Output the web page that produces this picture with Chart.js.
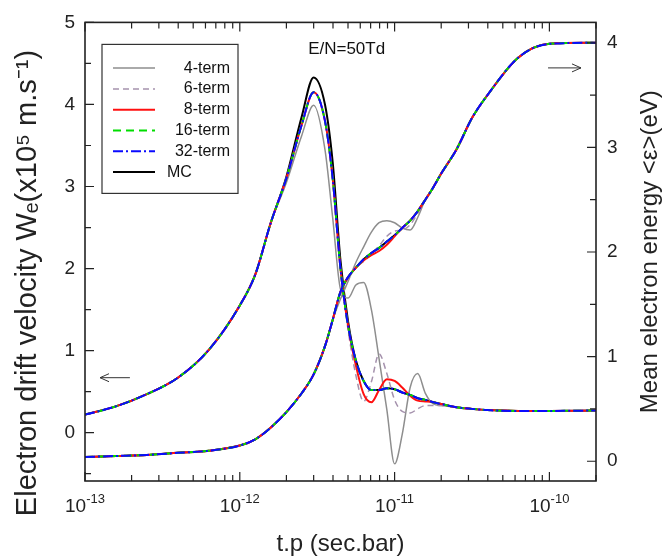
<!DOCTYPE html>
<html>
<head>
<meta charset="utf-8">
<script src="https://cdn.jsdelivr.net/npm/chart.js@4.4.1/dist/chart.umd.min.js"></script>
<style>
  html, body { margin: 0; padding: 0; background: #fff; }
</style>
</head>
<body>
<canvas id="chart" width="666" height="559"></canvas>
<script>
// time axis (t.p in sec.bar), shared by every curve
const times = [1e-13, 1.58e-13, 2.51e-13, 3.98e-13, 6.31e-13, 1e-12, 1.26e-12, 1.58e-12, 2.0e-12, 2.51e-12,
  3.0e-12, 3.55e-12, 3.98e-12, 4.47e-12, 5.01e-12, 5.62e-12, 6.31e-12, 7.08e-12, 7.94e-12,
  8.91e-12, 1e-11, 1.12e-11, 1.26e-11, 1.41e-11, 1.58e-11, 1.78e-11, 2.0e-11, 2.51e-11, 3.16e-11,
  3.98e-11, 6.31e-11, 1e-10, 2e-10];

// drift velocity (x10^5 m/s), left axis
const vel4  = [0.22, 0.32, 0.47, 0.67, 1.01, 1.55, 1.93, 2.55, 3.05, 3.62, 3.99, 3.45, 2.62, 1.75, 1.64, 1.80, 1.83, 1.50, 0.90,
  0.28, -0.38, -0.02, 0.55, 0.72, 0.48, 0.35, 0.33, 0.31, 0.29, 0.275, 0.265, 0.265, 0.27];
const vel6  = [0.22, 0.32, 0.47, 0.67, 1.01, 1.55, 1.93, 2.55, 3.10, 3.75, 4.15, 3.80, 3.10, 2.00, 1.25, 0.70, 0.38, 0.62, 0.96,
  0.72, 0.40, 0.26, 0.24, 0.29, 0.33, 0.33, 0.33, 0.31, 0.29, 0.275, 0.265, 0.265, 0.27];
const vel8  = [0.22, 0.32, 0.47, 0.67, 1.01, 1.55, 1.93, 2.55, 3.10, 3.75, 4.15, 3.80, 3.10, 2.00, 1.30, 0.82, 0.47, 0.37, 0.52,
  0.65, 0.63, 0.55, 0.45, 0.39, 0.38, 0.37, 0.35, 0.31, 0.29, 0.275, 0.265, 0.265, 0.27];
const vel16 = [0.22, 0.32, 0.47, 0.67, 1.01, 1.55, 1.93, 2.55, 3.10, 3.75, 4.15, 3.80, 3.10, 2.00, 1.30, 0.88, 0.63, 0.52, 0.52,
  0.54, 0.53, 0.49, 0.46, 0.42, 0.40, 0.37, 0.35, 0.31, 0.29, 0.275, 0.265, 0.265, 0.27];
const vel32 = [0.22, 0.32, 0.47, 0.67, 1.01, 1.55, 1.93, 2.55, 3.10, 3.75, 4.15, 3.80, 3.10, 2.00, 1.30, 0.88, 0.63, 0.52, 0.52,
  0.54, 0.53, 0.49, 0.46, 0.42, 0.40, 0.37, 0.35, 0.31, 0.29, 0.275, 0.265, 0.265, 0.27];
const velMC = [0.22, 0.32, 0.47, 0.67, 1.01, 1.55, 1.93, 2.55, 3.12, 3.85, 4.33, 4.00, 3.30, 2.10, 1.35, 0.88, 0.63, 0.52, 0.52,
  0.54, 0.53, 0.49, 0.46, 0.42, 0.40, 0.37, 0.35, 0.31, 0.29, 0.275, 0.265, 0.265, 0.27];

// mean electron energy (eV), right axis
const en4  = [0.04, 0.05, 0.06, 0.08, 0.10, 0.15, 0.21, 0.32, 0.47, 0.65, 0.83, 1.10, 1.35, 1.55, 1.72, 1.90, 2.05, 2.19, 2.28,
  2.30, 2.28, 2.23, 2.21, 2.33, 2.50, 2.62, 2.75, 2.98, 3.28, 3.50, 3.86, 3.99, 4.0];
const en6  = [0.04, 0.05, 0.06, 0.08, 0.10, 0.15, 0.21, 0.32, 0.47, 0.65, 0.83, 1.10, 1.35, 1.62, 1.76, 1.85, 1.91, 1.98, 2.06,
  2.15, 2.20, 2.21, 2.26, 2.37, 2.50, 2.62, 2.75, 2.98, 3.28, 3.50, 3.86, 3.99, 4.0];
const en8  = [0.04, 0.05, 0.06, 0.08, 0.10, 0.15, 0.21, 0.32, 0.47, 0.65, 0.83, 1.10, 1.35, 1.62, 1.76, 1.85, 1.92, 1.97, 2.01,
  2.07, 2.15, 2.23, 2.30, 2.39, 2.50, 2.62, 2.75, 2.98, 3.28, 3.50, 3.86, 3.99, 4.0];
const en16 = [0.04, 0.05, 0.06, 0.08, 0.10, 0.15, 0.21, 0.32, 0.47, 0.65, 0.83, 1.10, 1.35, 1.62, 1.76, 1.85, 1.93, 1.99, 2.04,
  2.10, 2.16, 2.23, 2.30, 2.39, 2.50, 2.62, 2.75, 2.98, 3.28, 3.50, 3.86, 3.99, 4.0];
const en32 = [0.04, 0.05, 0.06, 0.08, 0.10, 0.15, 0.21, 0.32, 0.47, 0.65, 0.83, 1.10, 1.35, 1.62, 1.76, 1.85, 1.93, 1.99, 2.04,
  2.10, 2.16, 2.23, 2.30, 2.39, 2.50, 2.62, 2.75, 2.98, 3.28, 3.50, 3.86, 3.99, 4.0];
const enMC = [0.04, 0.05, 0.06, 0.08, 0.10, 0.15, 0.21, 0.32, 0.47, 0.65, 0.83, 1.10, 1.35, 1.62, 1.76, 1.85, 1.93, 1.99, 2.04,
  2.10, 2.16, 2.23, 2.30, 2.39, 2.50, 2.62, 2.75, 2.98, 3.28, 3.50, 3.86, 3.99, 4.0];

const seriesNames = ['4-term', '6-term', '8-term', '16-term', '32-term', 'MC'];

// x ticks are powers of ten, written as base + exponent
const xTickValues = [1e-13, 1e-12, 1e-11, 1e-10];
const xTickExponents = ['-13', '-12', '-11', '-10'];
const leftTicks = [0, 1, 2, 3, 4, 5];
const rightTicks = [0, 1, 2, 3, 4];

const FONT = '"Liberation Sans", Arial, sans-serif';
Chart.defaults.font.family = FONT;
Chart.defaults.color = '#222';

// line styles, same order as seriesNames
const styles = [
  { color: '#8e8e8e', width: 1.5, dash: [], order: 4 },
  { color: '#a592ad', width: 1.5, dash: [6, 4], order: 3 },
  { color: '#ff1010', width: 2, dash: [], order: 2 },
  { color: '#00dd00', width: 2, dash: [8, 5], order: 1 },
  { color: '#0a0aff', width: 2, dash: [10, 3, 2, 3], order: 0 },
  { color: '#000000', width: 2, dash: [], order: 5 }
];

const toPoints = (vals) => vals.map((v, i) => ({ x: times[i], y: v }));

const makeSet = (name, vals, axis, i) => ({
  label: name,
  data: toPoints(vals),
  yAxisID: axis,
  borderColor: styles[i].color,
  borderWidth: styles[i].width,
  borderDash: styles[i].dash,
  order: styles[i].order,
  pointRadius: 0,
  fill: false,
  cubicInterpolationMode: 'monotone'
});

const velSets = [vel4, vel6, vel8, vel16, vel32, velMC];
const enSets = [en4, en6, en8, en16, en32, enMC];

const datasets = [
  ...velSets.map((v, i) => makeSet(seriesNames[i], v, 'yL', i)),
  ...enSets.map((v, i) => makeSet(seriesNames[i] + ' energy', v, 'yR', i))
];

// frame plus inward tick marks on all four sides
const frameTicks = {
  id: 'frameTicks',
  afterDatasetsDraw(chart) {
    const { ctx, chartArea: a, scales } = chart;
    ctx.save();
    ctx.strokeStyle = '#222';
    ctx.lineWidth = 1.6;
    ctx.strokeRect(a.left, a.top, a.right - a.left, a.bottom - a.top);
    ctx.lineWidth = 1.2;
    ctx.beginPath();
    for (let e = -13; e <= -10; e++) {
      for (let m = 1; m <= 9; m++) {
        const v = m * Math.pow(10, e);
        if (v < scales.x.min || v > scales.x.max) continue;
        const px = scales.x.getPixelForValue(v);
        const len = m === 1 ? 9 : 6;
        ctx.moveTo(px, a.bottom); ctx.lineTo(px, a.bottom - len);
        ctx.moveTo(px, a.top); ctx.lineTo(px, a.top + len);
      }
    }
    for (let k = -1; k <= 10; k++) {
      const v = k / 2;
      if (v < scales.yL.min || v > scales.yL.max) continue;
      const py = scales.yL.getPixelForValue(v);
      ctx.moveTo(a.left, py); ctx.lineTo(a.left + (k % 2 === 0 ? 9 : 6), py);
    }
    for (let k = 0; k <= 8; k++) {
      const py = scales.yR.getPixelForValue(k / 2);
      ctx.moveTo(a.right, py); ctx.lineTo(a.right - (k % 2 === 0 ? 9 : 6), py);
    }
    ctx.stroke();
    ctx.restore();
  }
};

const drawArrow = (ctx, x1, y, x2) => {
  const dir = x2 > x1 ? 1 : -1;
  ctx.beginPath();
  ctx.moveTo(x1, y); ctx.lineTo(x2, y);
  ctx.moveTo(x2 - dir * 9, y - 4); ctx.lineTo(x2, y); ctx.lineTo(x2 - dir * 9, y + 4);
  ctx.stroke();
};

const drawVertical = (ctx, text, x, y, size) => {
  ctx.save();
  ctx.font = size + 'px ' + FONT;
  ctx.fillStyle = '#222';
  ctx.textAlign = 'center';
  ctx.textBaseline = 'middle';
  ctx.translate(x, y);
  ctx.rotate(-Math.PI / 2);
  ctx.fillText(text, 0, 0);
  ctx.restore();
};

// legend box, x tick labels, arrows, E/N label, both y axis titles
const extras = {
  id: 'extras',
  afterDraw(chart) {
    const { ctx, chartArea: a, scales } = chart;
    ctx.save();

    const x0 = a.left + 17, y0 = a.top + 22, w = 136, h = 149;
    ctx.fillStyle = '#fff';
    ctx.fillRect(x0, y0, w, h);
    ctx.strokeStyle = '#333';
    ctx.lineWidth = 1.2;
    ctx.strokeRect(x0, y0, w, h);
    ctx.font = '16px ' + FONT;
    ctx.textBaseline = 'middle';
    seriesNames.forEach((name, i) => {
      const ds = chart.data.datasets[i];
      const y = y0 + 23.7 + i * 20.8;
      ctx.strokeStyle = ds.borderColor;
      ctx.lineWidth = ds.borderWidth;
      ctx.setLineDash(ds.borderDash);
      ctx.beginPath();
      ctx.moveTo(x0 + 11, y); ctx.lineTo(x0 + 53, y);
      ctx.stroke();
      ctx.setLineDash([]);
      ctx.fillStyle = '#111';
      if (name === 'MC') {
        ctx.textAlign = 'left';
        ctx.fillText(name, x0 + 65, y);
      } else {
        ctx.textAlign = 'right';
        ctx.fillText(name, x0 + 128, y);
      }
    });

    // x tick labels: "10" with raised exponent
    ctx.fillStyle = '#222';
    ctx.textBaseline = 'alphabetic';
    ctx.textAlign = 'left';
    xTickValues.forEach((v, i) => {
      const px = scales.x.getPixelForValue(v);
      ctx.font = '19px ' + FONT;
      const wb = ctx.measureText('10').width;
      ctx.font = '13px ' + FONT;
      const we = ctx.measureText(xTickExponents[i]).width;
      const left = px - (wb + we) / 2;
      ctx.font = '19px ' + FONT;
      ctx.fillText('10', left, a.bottom + 31);
      ctx.font = '13px ' + FONT;
      ctx.fillText(xTickExponents[i], left + wb, a.bottom + 22);
    });

    // arrows pointing at each curve's axis
    ctx.strokeStyle = '#333';
    ctx.lineWidth = 1;
    drawArrow(ctx, scales.x.getPixelForValue(1.95e-13), scales.yL.getPixelForValue(0.67), scales.x.getPixelForValue(1.25e-13));
    drawArrow(ctx, scales.x.getPixelForValue(9.8e-11), scales.yR.getPixelForValue(3.76), scales.x.getPixelForValue(1.6e-10));

    ctx.fillStyle = '#111';
    ctx.font = '17px ' + FONT;
    ctx.textAlign = 'center';
    ctx.fillText('E/N=50Td', scales.x.getPixelForValue(4.9e-12), scales.yL.getPixelForValue(4.62));
    ctx.restore();

    drawVertical(ctx, 'Electron drift velocity Wₑ(x10⁵ m.s⁻¹)', 28, 283, 29);
    drawVertical(ctx, 'Mean electron energy <ε>(eV)', 650, (a.top + a.bottom) / 2, 24);
  }
};

new Chart(document.getElementById('chart'), {
  type: 'line',
  data: { datasets },
  options: {
    responsive: false,
    animation: false,
    layout: { padding: { top: 16, left: 0, right: 0, bottom: 0 } },
    plugins: { legend: { display: false }, tooltip: { enabled: false } },
    scales: {
      x: {
        type: 'logarithmic',
        min: 1e-13,
        max: 2e-10,
        grid: { display: false, drawTicks: false },
        border: { display: false },
        afterBuildTicks: (scale) => { scale.ticks = xTickValues.map(v => ({ value: v })); },
        afterFit: (scale) => { scale.height = 78; },
        ticks: { display: false },
        title: {
          display: true,
          text: 't.p (sec.bar)',
          font: { size: 24 },
          padding: { top: 0, bottom: 0 }
        }
      },
      yL: {
        type: 'linear',
        position: 'left',
        min: -0.589,
        max: 5,
        grid: { display: false, drawTicks: false },
        border: { display: false },
        afterBuildTicks: (scale) => { scale.ticks = leftTicks.map(v => ({ value: v })); },
        afterFit: (scale) => { scale.width = 85; },
        ticks: { padding: 10, font: { size: 19 }, callback: (v) => String(v) }
      },
      yR: {
        type: 'linear',
        position: 'right',
        min: -0.189,
        max: 4.195,
        grid: { display: false, drawTicks: false },
        border: { display: false },
        afterBuildTicks: (scale) => { scale.ticks = rightTicks.map(v => ({ value: v })); },
        afterFit: (scale) => { scale.width = 70; },
        ticks: { padding: 11, font: { size: 19 }, callback: (v) => String(v) }
      }
    }
  },
  plugins: [frameTicks, extras]
});
</script>
</body>
</html>
